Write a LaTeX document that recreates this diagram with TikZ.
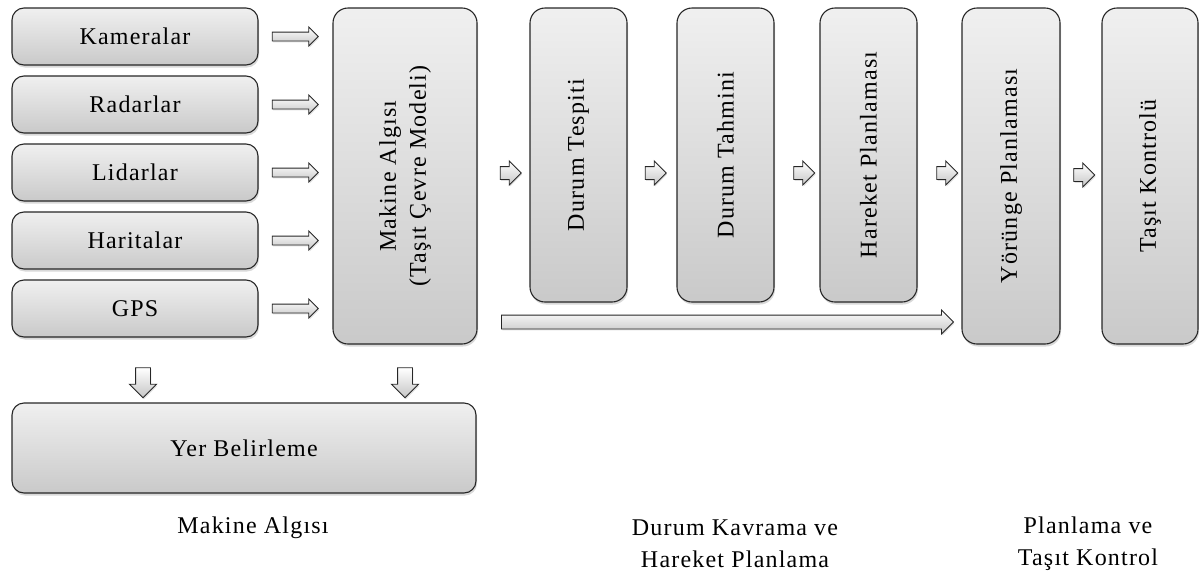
\documentclass[tikz,border=0pt]{standalone}
\usepackage{fontspec}
\setmainfont{Liberation Serif}[LetterSpace=5]
\usetikzlibrary{shapes.arrows,shadows}
\begin{document}
\begin{tikzpicture}[x=1pt,y=-1pt,
  font=\fontsize{24}{30}\selectfont,
  hbox/.style={draw=black!85, line width=1.1pt, rounded corners=12pt,
    top color=gray!12, bottom color=gray!42,
    drop shadow={opacity=.3, shadow xshift=1pt, shadow yshift=-2.5pt},
    inner sep=0pt, align=center},
  vbox/.style={hbox, rotate=90, rounded corners=15pt},
  blockarrow/.style n args={3}{single arrow, draw=black!85, line width=.9pt,
    top color=white, bottom color=gray!45,
    drop shadow={opacity=.25, shadow xshift=.8pt, shadow yshift=-1.5pt},
    inner xsep=0pt, inner ysep=#2, minimum height=#1,
    single arrow head extend=#3},
  rarr/.style={blockarrow={46pt}{4pt}{5pt}},
  sarr/.style={blockarrow={21pt}{6pt}{5.5pt}},
  darr/.style={blockarrow={30pt}{0pt}{6pt}, inner xsep=7pt, shape border rotate=270},
  caption/.style={align=center, font=\fontsize{24}{32}\selectfont}
]
\useasboundingbox (0,0) rectangle (1199,576);

% left input boxes
\node[hbox, minimum width=246pt, minimum height=57pt] (kam) at (135,36.5) {Kameralar};
\node[hbox, minimum width=246pt, minimum height=57pt] (rad) at (135,104.5) {Radarlar};
\node[hbox, minimum width=246pt, minimum height=57pt] (lid) at (135,172.5) {Lidarlar};
\node[hbox, minimum width=246pt, minimum height=57pt] (har) at (135,240.5) {Haritalar};
\node[hbox, minimum width=246pt, minimum height=57pt] (gps) at (135,308.5) {GPS};

% perception model
\node[vbox, minimum width=336pt, minimum height=144pt] (ma) at (405,176) {Makine Algısı\\(Taşıt Çevre Modeli)};

% localisation
\node[hbox, minimum width=464pt, minimum height=90pt] (yer) at (244,448) {Yer Belirleme};

% planning chain
\node[vbox, minimum width=294pt, minimum height=97pt] (dt) at (578.5,155) {Durum Tespiti};
\node[vbox, minimum width=294pt, minimum height=97pt] (dth) at (725.5,155) {Durum Tahmini};
\node[vbox, minimum width=294pt, minimum height=97pt] (hp) at (868.5,155) {Hareket Planlaması};
\node[vbox, minimum width=336pt, minimum height=98pt] (yp) at (1011,176) {Yörünge Planlaması};
\node[vbox, minimum width=336pt, minimum height=96pt] (tk) at (1150,176) {Taşıt Kontrolü};

% arrows sensors -> model
\node[rarr] (a1) at (293,36.5) {};
\node[rarr] (a2) at (293,104.5) {};
\node[rarr] (a3) at (293,172.5) {};
\node[rarr] (a4) at (293,240.5) {};
\node[rarr] (a5) at (293,308.5) {};

% down arrows
\node[darr] (d1) at (143,379) {};
\node[darr] (d2) at (405,379) {};

% small arrows
\node[sarr] (s1) at (507.5,173) {};
\node[sarr] (s2) at (652.5,173) {};
\node[sarr] (s3) at (801,173) {};
\node[sarr] (s4) at (944,173) {};
\node[sarr] (s5) at (1081,175) {};

% long arrow
\node[blockarrow={452pt}{6.5pt}{5pt}] (long) at (724,322) {};

% captions
\node[caption] (c1) at (253,528) {Makine Algısı};
\node[caption] (c2) at (735,544) {Durum Kavrama ve\\Hareket Planlama};
\node[caption] (c3) at (1088,544) {Planlama ve\\Taşıt Kontrol};
\end{tikzpicture}
\end{document}
